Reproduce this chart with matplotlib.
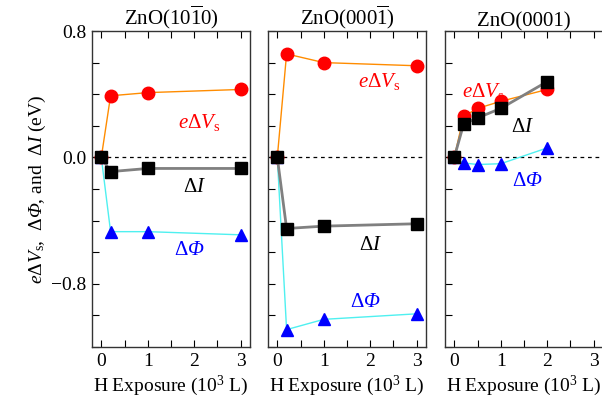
import numpy as np
import matplotlib.pyplot as plt
from matplotlib.ticker import MultipleLocator, FixedLocator

plt.rcParams['font.family'] = ['Liberation Serif', 'DejaVu Serif']
plt.rcParams['mathtext.fontset'] = 'custom'
plt.rcParams['mathtext.rm'] = 'Liberation Serif'
plt.rcParams['mathtext.it'] = 'Liberation Serif:italic'
plt.rcParams['mathtext.bf'] = 'Liberation Serif:bold'
# italic capital Greek (mathtext forces \mathit greek capitals upright)
plt.rcParams['mathtext.sf'] = 'Liberation Serif:italic'

titles = [r'ZnO(10$\overline{1}$0)', r'ZnO(000$\overline{1}$)', 'ZnO(0001)']

# panel 1: ZnO(10-10)
x1 = [0, 0.2, 1, 3]
vs1 = [0, 0.39, 0.41, 0.43]
di1 = [0, -0.09, -0.07, -0.07]
phi1 = [0, -0.47, -0.47, -0.49]

# panel 2: ZnO(000-1)
x2 = [0, 0.2, 1, 3]
vs2 = [0, 0.655, 0.60, 0.58]
di2 = [0, -0.45, -0.435, -0.42]
phi2 = [0, -1.09, -1.025, -0.99]

# panel 3: ZnO(0001)
x3 = [0, 0.2, 0.5, 1, 2]
vs3 = [0, 0.26, 0.31, 0.355, 0.43]
di3 = [0, 0.21, 0.25, 0.31, 0.48]
phi3 = [0, -0.035, -0.045, -0.04, 0.06]

panels = [(x1, vs1, di1, phi1), (x2, vs2, di2, phi2), (x3, vs3, di3, phi3)]

# label positions (data coords) for each panel: vs, dI, phi
label_pos = [
    [(2.1, 0.22), (2.0, -0.19), (1.9, -0.59)],
    [(2.2, 0.48), (2.0, -0.56), (1.9, -0.92)],
    [(0.62, 0.42), (1.46, 0.19), (1.57, -0.155)],
]

fig = plt.figure(figsize=(6.02, 4.08), dpi=100)
lefts = [92, 268, 445]
W, H = 602.0, 408.0
for i, (x, vs, di, phi) in enumerate(panels):
    ax = fig.add_axes([lefts[i] / W, 1 - 347 / H, 158 / W, (347 - 31) / H])
    ax.axhline(0, color='black', ls=(0, (3, 3)), lw=0.9, zorder=1)
    ax.plot(x, phi, color='#4ff0f0', lw=1.0, marker='^', ms=9,
            mfc='#0000ff', mec='#0000ff', zorder=2)
    ax.plot(x, vs, color='#ff8c00', lw=1.0, marker='o', ms=9,
            mfc='#ff0000', mec='#ff0000', zorder=3)
    ax.plot(x, di, color='#808080', lw=2.0, marker='s', ms=9,
            mfc='black', mec='black', zorder=4)
    (a, b), (c, d), (e, f) = label_pos[i]
    ax.text(a, b, r'$e\Delta V_\mathrm{s}$', color='#ff0000', fontsize=15,
            ha='center', va='center')
    ax.text(c, d, r'$\Delta I$', color='black', fontsize=15,
            ha='center', va='center')
    ax.text(e, f, r'$\Delta \mathsf{\Phi}$', color='#0000ff', fontsize=15,
            ha='center', va='center')
    ax.set_xlim(-0.2, 3.2)
    ax.set_ylim(-1.2, 0.8)
    ax.xaxis.set_minor_locator(MultipleLocator(0.5))
    ax.yaxis.set_major_locator(FixedLocator([-0.8, 0.0, 0.8]))
    ax.yaxis.set_minor_locator(MultipleLocator(0.2))
    ax.tick_params(which='both', direction='in', top=True, right=False,
                   length=5, width=0.8, labelsize=14, pad=4)
    ax.set_xticks([0, 1, 2, 3])
    ax.set_xticklabels(['0', '1', '2', '3'])
    if i == 0:
        ax.set_yticklabels(['\u22120.8', '0.0', '0.8'])
        ax.set_ylabel(r'$e\Delta V_\mathrm{s}$,  $\Delta\mathsf{\Phi}$, and  $\Delta I$ (eV)',
                      fontsize=14, labelpad=2)
    else:
        ax.set_yticklabels([])
    ax.set_title(titles[i], fontsize=15, pad=3)
    ax.set_xlabel(r'H Exposure (10$^3$ L)', fontsize=14, labelpad=3)
    for s in ax.spines.values():
        s.set_color('#333333')
        s.set_linewidth(1.0)

fig.savefig('out.png', dpi=100)
